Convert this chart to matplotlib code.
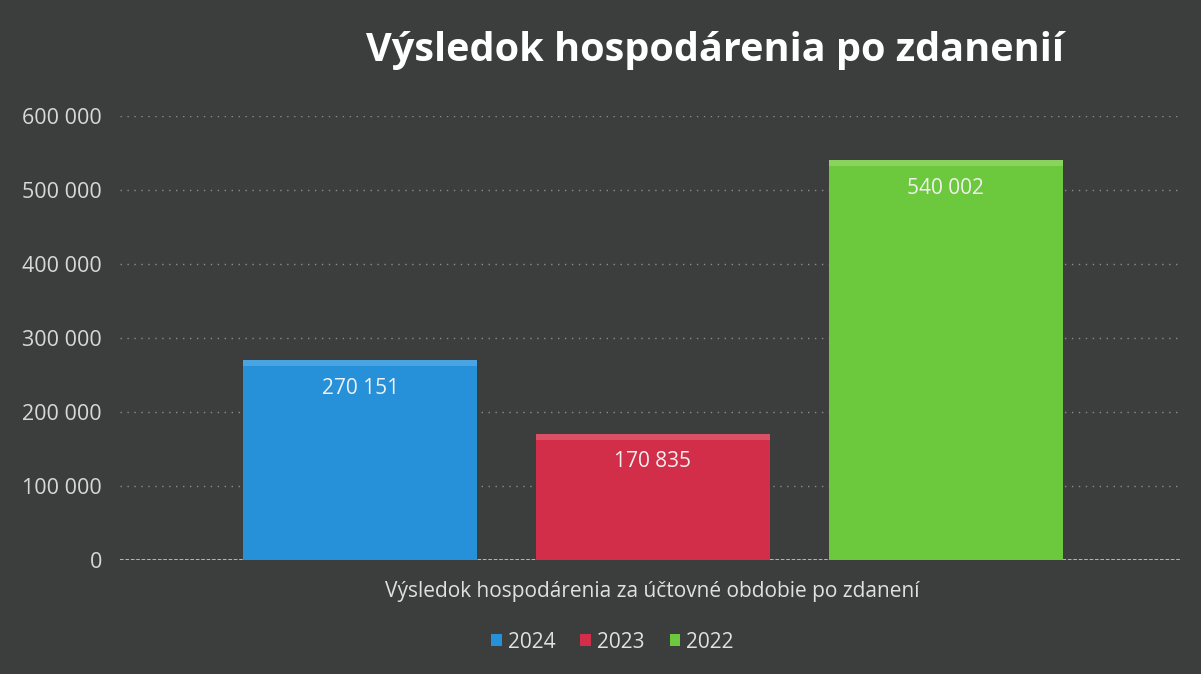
import matplotlib
matplotlib.use("Agg")
import matplotlib.pyplot as plt
from matplotlib.patches import Patch
from matplotlib.ticker import FuncFormatter

title = "Výsledok hospodárenia po zdanenií"
category = "Výsledok hospodárenia za účtovné obdobie po zdanení"
years = ["2024", "2023", "2022"]
values = [270151, 170835, 540002]
colors = ["#2690d9", "#d22e4a", "#6cc83c"]
highlights = ["#4aa4e2", "#dc5066", "#8ad35e"]
yticks = [0, 100000, 200000, 300000, 400000, 500000, 600000]

plt.rcParams['font.family'] = ['Open Sans', 'DejaVu Sans']
bg = "#3c3e3e"
fig = plt.figure(figsize=(12.01, 6.74), dpi=100, facecolor=bg)
ax = fig.add_axes([0.0999, 0.169, 0.8826, 0.659], facecolor=bg)

x = list(range(len(values)))
bars = ax.bar(x, values, width=0.8, color=colors, zorder=3)
band = 8000
ax.bar(x, [band] * len(values), bottom=[v - band for v in values], width=0.8,
       color=highlights, zorder=3.5, linewidth=0)
for b, v in zip(bars, values):
    ax.text(b.get_x() + b.get_width() / 2, v - 38000, f"{v:,}".replace(",", " "),
            ha="center", va="center", color="#f0f0f0", fontsize=15, zorder=4)

ax.set_xlim(-0.82, 2.8)
ax.set_ylim(0, 600000)
ax.set_yticks(yticks)
ax.yaxis.set_major_formatter(FuncFormatter(lambda v, p: f"{int(v):,}".replace(",", " ")))
ax.tick_params(axis='y', colors="#d8d8d8", labelsize=15.5, length=0, pad=13)
ax.set_xticks([])
for s in ax.spines.values():
    s.set_visible(False)
ax.grid(axis='y', color="#8c8c8c", linestyle=(0, (1, 4)), linewidth=1.0, zorder=1)
ax.axhline(0, color="#c0c0c0", linewidth=1.3, linestyle=(0, (2, 1)), zorder=2)

fig.text(0.595, 0.925, title, ha="center", va="center", color="white",
         fontsize=28.5, fontweight="bold")
fig.text(0.543, 0.122, category, ha="center", va="center", color="#e0e0e0", fontsize=15)

handles = [Patch(facecolor=c, label=y) for c, y in zip(colors, years)]
leg = fig.legend(handles=handles, loc="center", bbox_to_anchor=(0.51, 0.047), ncol=3,
                 frameon=False, fontsize=15, labelcolor="#e0e0e0",
                 handlelength=0.5, handleheight=0.5, handletextpad=0.3, columnspacing=1.2)

fig.savefig("out.png", dpi=100, facecolor=bg)
